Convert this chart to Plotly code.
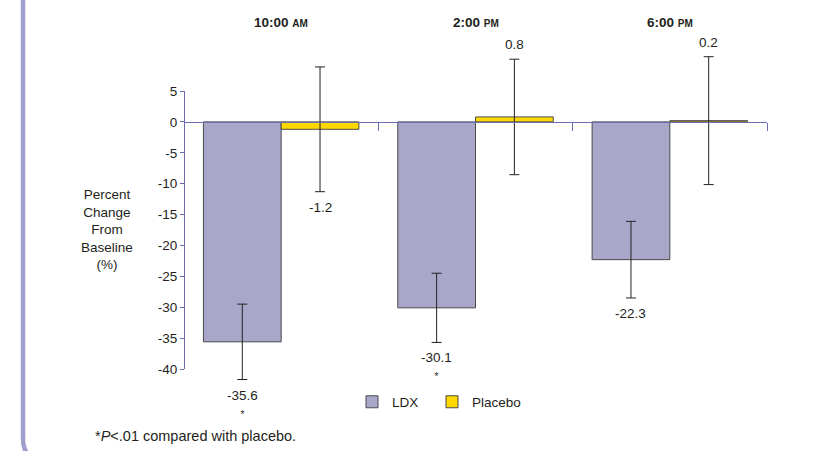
import plotly.graph_objects as go

categories = ["10:00 AM", "2:00 PM", "6:00 PM"]
cat_main = ["10:00", "2:00", "6:00"]
cat_suffix = ["AM", "PM", "PM"]
ldx_values = [-35.6, -30.1, -22.3]
ldx_err = [6.1, 5.6, 6.2]
ldx_sig = [True, True, False]
placebo_values = [-1.2, 0.8, 0.2]
placebo_err = [10.1, 9.35, 10.35]
placebo_sig = [False, False, False]
y_ticks = [5, 0, -5, -10, -15, -20, -25, -30, -35, -40]

FONT = "Liberation Sans, Arial, sans-serif"
TXT = "#231f20"
AXIS = "#6d6bb3"
LDX_FILL = "#a8a7ca"
PLA_FILL = "#ffd800"
EDGE = "#4a4a4a"

W, H = 813, 451
# visible axis frame (pixels)
AX_L, AX_R, AX_T, AX_B = 184, 767, 91, 369
YMIN, YMAX = -40, 5
# larger plotting area so error bars / labels are not clipped
T, B = 30, 30
L, R = AX_L, W - AX_R
PW, PH = W - L - R, H - T - B
scale = (AX_B - AX_T) / (YMAX - YMIN)            # px per unit
Y_LO = YMIN - (H - B - AX_B) / scale
Y_HI = YMAX + (AX_T - T) / scale
dom0 = (H - B - AX_B) / PH
dom1 = (H - B - AX_T) / PH


def px(xp):
    return (xp - L) / PW


def py(yp):
    return (H - B - yp) / PH


def yfrac(v):
    return (v - Y_LO) / (Y_HI - Y_LO)


x = list(range(len(categories)))
fig = go.Figure()
fig.add_trace(go.Bar(
    x=x, y=ldx_values, name="LDX", legend="legend",
    marker=dict(color=LDX_FILL, line=dict(color=EDGE, width=1)),
    error_y=dict(type="data", array=ldx_err, color="#222", thickness=1, width=5),
))
fig.add_trace(go.Bar(
    x=x, y=placebo_values, name="Placebo", legend="legend2",
    marker=dict(color=PLA_FILL, line=dict(color=EDGE, width=1)),
    error_y=dict(type="data", array=placebo_err, color="#222", thickness=1, width=5),
))
# carrier for the visible y axis
fig.add_trace(go.Scatter(x=[None], y=[None], yaxis="y2", showlegend=False,
                         hoverinfo="skip"))

annotations = []
for vals, errs, sigs, off in [(ldx_values, ldx_err, ldx_sig, -0.2),
                              (placebo_values, placebo_err, placebo_sig, 0.2)]:
    for i, (v, e, s) in enumerate(zip(vals, errs, sigs)):
        txt = f"{v:.1f}"
        if s:
            txt += "<br><span style='font-size:10px'>*</span>"
        if v < 0:
            annotations.append(dict(x=i + off, y=v - e, xref="x", yref="y", text=txt,
                                    showarrow=False, yanchor="top", yshift=-6,
                                    font=dict(size=13.5, color=TXT, family=FONT)))
        else:
            annotations.append(dict(x=i + off, y=v + e, xref="x", yref="y", text=txt,
                                    showarrow=False, yanchor="bottom", yshift=5,
                                    font=dict(size=13.5, color=TXT, family=FONT)))

for i, (m, s) in enumerate(zip(cat_main, cat_suffix)):
    annotations.append(dict(x=i, y=py(22), xref="x", yref="paper",
                            text=f"<b>{m} <span style='font-size:10px'>{s}</span></b>",
                            showarrow=False, yanchor="middle",
                            font=dict(size=13.5, color=TXT, family=FONT)))

annotations.append(dict(x=px(107), y=py(230), xref="paper", yref="paper",
                        text="Percent<br>Change<br>From<br>Baseline<br>(%)",
                        showarrow=False, xanchor="center", yanchor="middle", align="center",
                        font=dict(size=13.5, color=TXT, family=FONT)))

annotations.append(dict(x=px(93), y=py(436), xref="paper", yref="paper",
                        text="*<i>P</i>&lt;.01 compared with placebo.",
                        showarrow=False, xanchor="left", yanchor="middle",
                        font=dict(size=14.5, color=TXT, family=FONT)))

bx, bb, rad = 23, 462, 24
path = (f"M {px(bx)},{py(-10)} L {px(bx)},{py(bb - rad)} "
        f"Q {px(bx)},{py(bb)} {px(bx + rad)},{py(bb)} L {px(400)},{py(bb)}")
shapes = [dict(type="path", path=path, xref="paper", yref="paper",
               line=dict(color="#a09fcc", width=4.5))]

leg_common = dict(orientation="h", yanchor="middle", xanchor="left",
                  font=dict(size=13.5, color=TXT, family=FONT), indentation=-8,
                  bgcolor="rgba(0,0,0,0)", itemclick=False, itemdoubleclick=False)

fig.update_layout(
    width=W, height=H,
    margin=dict(l=L, r=R, t=T, b=B),
    paper_bgcolor="white", plot_bgcolor="rgba(0,0,0,0)",
    barmode="group", bargap=0.2, bargroupgap=0,
    font=dict(family=FONT, size=13.5, color=TXT),
    showlegend=True,
    legend=dict(x=px(360), y=py(402), **leg_common),
    legend2=dict(x=px(440), y=py(402), **leg_common),
    xaxis=dict(range=[-0.5, 2.5], anchor="free", position=yfrac(0),
               showline=True, linecolor=AXIS, linewidth=1,
               tickmode="array", tickvals=[-0.5, 0.5, 1.5, 2.5], ticks="outside",
               ticklen=8, tickcolor=AXIS, tickwidth=1, showticklabels=False,
               showgrid=False, zeroline=False, fixedrange=True),
    yaxis=dict(range=[Y_LO, Y_HI], visible=False, showgrid=False, zeroline=False,
               fixedrange=True),
    yaxis2=dict(range=[YMIN, YMAX], domain=[dom0, dom1], anchor="free", position=0,
                showline=True, linecolor=AXIS, linewidth=1,
                tickmode="array", tickvals=y_ticks, ticktext=[str(t) for t in y_ticks],
                ticks="outside", ticklen=4, tickcolor=AXIS, tickwidth=1,
                showgrid=False, zeroline=False, fixedrange=True,
                tickfont=dict(size=13.5, color=TXT, family=FONT)),
    annotations=annotations,
    shapes=shapes,
)

fig.write_html("out.html", config={"displayModeBar": False, "staticPlot": True},
               post_script="document.body.style.margin='0';")
